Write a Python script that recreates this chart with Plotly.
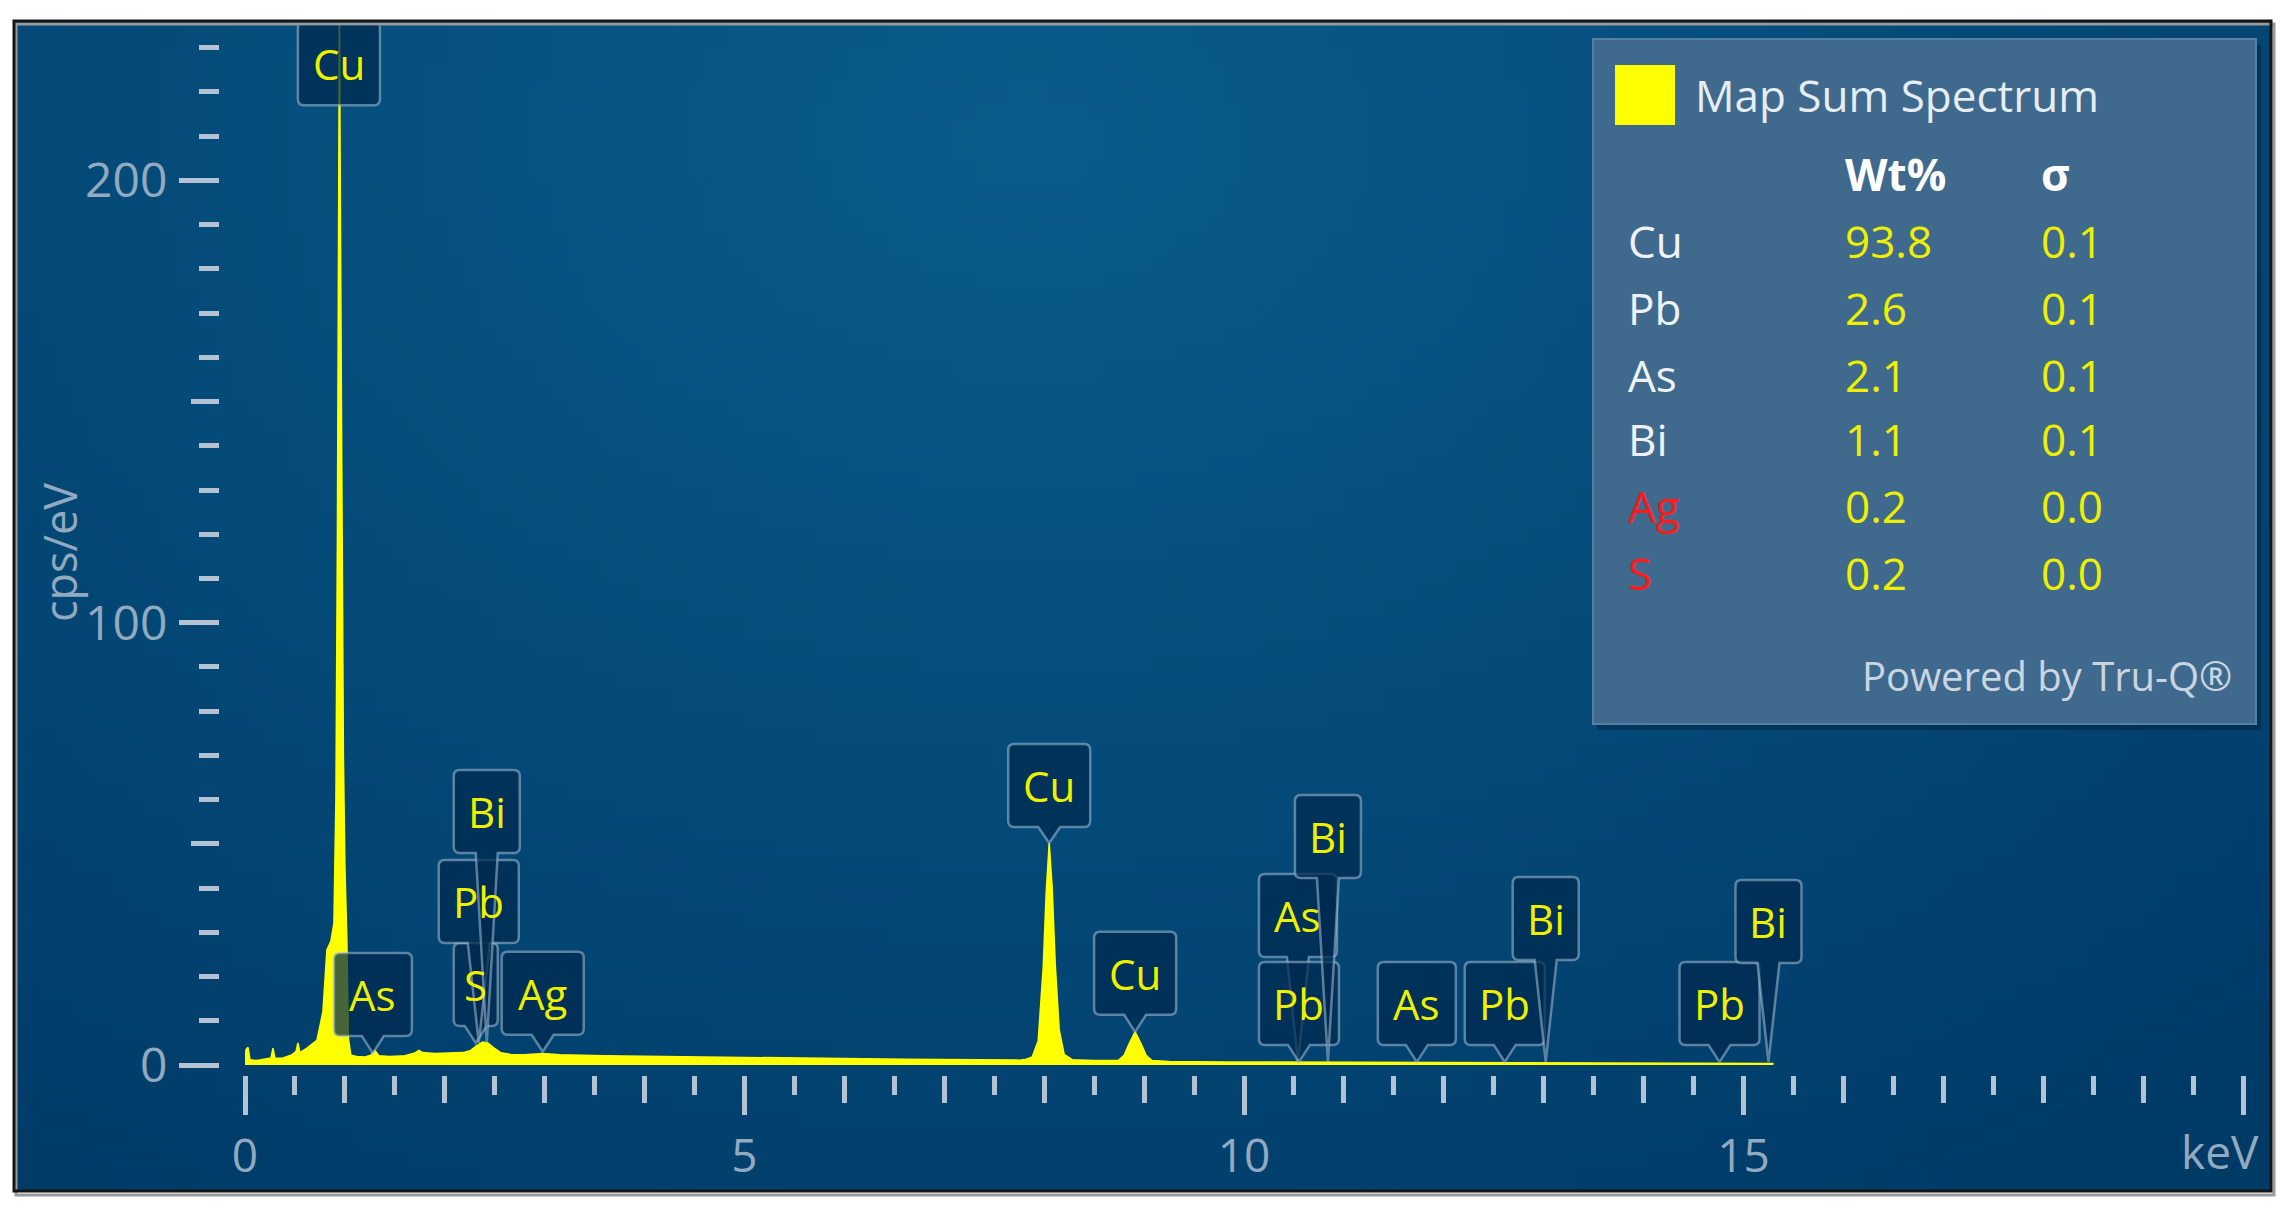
import base64
import math
import struct
import zlib

import plotly.graph_objects as go

W, H = 2285, 1211

# ---- spectrum (keV, cps/eV) ----
energy_kev = [
    0.00, 0.01, 0.03, 0.05, 0.12, 0.20, 0.26, 0.28, 0.30, 0.38, 0.46, 0.51, 0.53, 0.55,
    0.62, 0.72, 0.78, 0.82, 0.86, 0.89, 0.91, 0.925, 0.945, 0.965, 0.985, 1.00, 1.02,
    1.035, 1.06, 1.12, 1.20, 1.26, 1.30, 1.34, 1.45, 1.60, 1.70, 1.74, 1.78, 1.90, 2.05,
    2.18, 2.26, 2.32, 2.38, 2.43, 2.49, 2.56, 2.66, 2.80, 2.98, 3.15, 3.60, 4.20, 5.00,
    5.80, 6.60, 7.30, 7.75, 7.82, 7.88, 7.94, 7.99, 8.02, 8.05, 8.08, 8.11, 8.15, 8.20,
    8.28, 8.50, 8.74, 8.80, 8.85, 8.91, 8.97, 9.02, 9.08, 9.25, 9.80, 10.5, 11.3, 12.2,
    13.1, 14.2, 15.3,
]
counts = [
    0.0, 3.5, 4.0, 1.2, 1.0, 1.3, 1.6, 3.8, 1.5, 1.6, 2.2, 3.0, 5.0, 2.8,
    3.8, 5.6, 12.0, 26.0, 28.0, 32.0, 60.0, 120.0, 238.0, 150.0, 70.0, 45.0, 28.0,
    6.0, 2.2, 1.9, 1.8, 2.2, 3.3, 2.1, 1.9, 2.1, 2.7, 3.3, 2.8, 2.6, 2.7,
    2.8, 3.3, 4.4, 5.2, 5.0, 3.9, 2.8, 2.4, 2.3, 2.6, 2.3, 2.1, 1.9, 1.7,
    1.5, 1.3, 1.2, 1.1, 1.3, 1.8, 5.5, 22.0, 39.0, 50.2, 40.0, 23.0, 8.0, 2.4,
    1.2, 1.0, 1.0, 2.2, 4.8, 7.5, 4.8, 2.2, 1.0, 0.8, 0.7, 0.65, 0.6, 0.5,
    0.45, 0.4, 0.35,
]

# peak identification labels: element, line energy (keV), height of the label tip (cps/eV)
line_elements = ["Cu", "As", "S", "Pb", "Bi", "Ag", "Cu", "Cu", "As", "Pb", "Bi", "As", "Pb", "Bi", "Pb", "Bi"]
line_energy_kev = [0.94, 1.28, 2.31, 2.34, 2.42, 2.98, 8.05, 8.91, 10.54, 10.55, 10.84, 11.73, 12.61, 13.02, 14.76, 15.25]
line_tip_counts = [217, 2.7, 5.0, 5.0, 5.0, 3.0, 50.2, 7.5, 0.7, 0.7, 0.7, 0.7, 0.7, 0.7, 0.7, 0.7]

# quantification table
quant_elements = ["Cu", "Pb", "As", "Bi", "Ag", "S"]
quant_wt = ["93.8", "2.6", "2.1", "1.1", "0.2", "0.2"]
quant_sigma = ["0.1", "0.1", "0.1", "0.1", "0.0", "0.0"]
quant_flagged = ["Ag", "S"]

x_major_ticks = [0, 5, 10, 15, 20]
x_tick_text = ["0", "5", "10", "15", ""]
y_major_ticks = [0, 100, 200]

# ---- layout geometry / styles (pixels) ----
label_stem_px = [0, 17, 17, 100, 190, 17, 16, 17, 105, 17, 184, 17, 17, 102, 17, 99]
box_w = {"Cu": 82, "As": 78, "Ag": 82, "Pb": 80, "Bi": 66, "S": 44}
box_h = 83

FONT = "Open Sans"
TICK_C = "#b3c3d3"
TICKLABEL_C = "#92a9c0"
YELLOW = "#ffff00"
LABEL_YELLOW = "#eef000"

X0_PX, X20_PX = 245, 2243      # x axis 0 and 20 keV
AXIS_PX, TOP_PX = 1075, 25.6   # plot bottom / top
Y0_PX, PX_PER_COUNT = 1065, 4.423


def px_x(x):
    return x / W


def px_y(y):
    return 1 - y / H


def gradient_png(w=128, h=64):
    inner, outer = (9, 92, 140), (0, 58, 103)
    rows = []
    for j in range(h):
        row = bytearray([0])
        v = (j + 0.5) / h
        for i in range(w):
            u = (i + 0.5) / w
            d = math.sqrt(((u - 0.45) / 0.8) ** 2 + ((v - 0.1) / 1.1) ** 2)
            t = min(d, 1.0)
            row += bytes(int(round(a * (1 - t) + b * t)) for a, b in zip(inner, outer))
        rows.append(bytes(row))

    def chunk(tag, data):
        return struct.pack(">I", len(data)) + tag + data + struct.pack(">I", zlib.crc32(tag + data) & 0xFFFFFFFF)

    png = (b"\x89PNG\r\n\x1a\n" + chunk(b"IHDR", struct.pack(">IIBBBBB", w, h, 8, 2, 0, 0, 0))
           + chunk(b"IDAT", zlib.compress(b"".join(rows))) + chunk(b"IEND", b""))
    return "data:image/png;base64," + base64.b64encode(png).decode()


def callout_path(w, h, p, r=6, b=11):
    hw = w / 2
    if p <= 0:
        b = 0
    return (f"M0,0 L{b},{p} L{hw - r},{p} Q{hw},{p} {hw},{p + r} L{hw},{p + h - r} "
            f"Q{hw},{p + h} {hw - r},{p + h} L{-hw + r},{p + h} Q{-hw},{p + h} {-hw},{p + h - r} "
            f"L{-hw},{p + r} Q{-hw},{p} {-hw + r},{p} L{-b},{p} Z")


fig = go.Figure()

fig.add_trace(go.Scatter(
    x=energy_kev, y=counts, mode="lines", fill="tozeroy",
    line=dict(color=YELLOW, width=1.5), fillcolor=YELLOW,
    hoverinfo="skip", showlegend=False,
))
# empty trace so the overlay axes (medium / half ticks) get drawn
fig.add_trace(go.Scatter(x=[None], y=[None], xaxis="x2", yaxis="y2", showlegend=False, hoverinfo="skip"))

y_min = (Y0_PX - AXIS_PX) / PX_PER_COUNT
y_max = (Y0_PX - TOP_PX) / PX_PER_COUNT
x_dom = [px_x(X0_PX), px_x(X20_PX)]
y_dom = [px_y(AXIS_PX), px_y(TOP_PX)]

x_tick_font = dict(family=FONT, size=46, color=TICKLABEL_C)
y_tick_font = dict(family=FONT, size=48, color=TICKLABEL_C)

fig.update_layout(
    template="none",
    width=W, height=H,
    margin=dict(l=0, r=0, t=0, b=0),
    paper_bgcolor="white",
    plot_bgcolor="rgba(0,0,0,0)",
    font=dict(family=FONT),
    showlegend=False,
    xaxis=dict(
        domain=x_dom, range=[0, 20], anchor="y",
        tickmode="array", tickvals=x_major_ticks, ticktext=x_tick_text,
        ticks="outside", ticklen=39, tickwidth=5, tickcolor=TICK_C,
        tickfont=x_tick_font, ticklabelstandoff=2,
        minor=dict(tickmode="array", tickvals=[k for k in range(1, 20) if k % 5],
                   ticks="outside", ticklen=27, tickwidth=5, tickcolor=TICK_C, showgrid=False),
        showline=False, showgrid=False, zeroline=False, fixedrange=True,
    ),
    xaxis2=dict(
        overlaying="x", range=[0, 20], anchor="y2",
        tickmode="array", tickvals=[k + 0.5 for k in range(20)],
        ticks="outside", ticklen=19, tickwidth=5, tickcolor=TICK_C, showticklabels=False,
        showline=False, showgrid=False, zeroline=False, fixedrange=True,
    ),
    yaxis=dict(
        domain=y_dom, range=[y_min, y_max], anchor="free", position=px_x(219),
        tickmode="array", tickvals=y_major_ticks,
        ticks="outside", ticklen=40, tickwidth=5, tickcolor=TICK_C,
        tickfont=y_tick_font, ticklabelstandoff=2,
        minor=dict(tickmode="array", tickvals=[k for k in range(10, 240, 10) if k % 50],
                   ticks="outside", ticklen=20, tickwidth=5, tickcolor=TICK_C, showgrid=False),
        showline=False, showgrid=False, zeroline=False, fixedrange=True,
    ),
    yaxis2=dict(
        overlaying="y", range=[y_min, y_max], anchor="free", position=px_x(219),
        tickmode="array", tickvals=[50, 150],
        ticks="outside", ticklen=28, tickwidth=5, tickcolor=TICK_C, showticklabels=False,
        showline=False, showgrid=False, zeroline=False, fixedrange=True,
    ),
)

# panel background
fig.add_layout_image(dict(
    source=gradient_png(), xref="paper", yref="paper",
    x=px_x(14), y=px_y(21), sizex=px_x(2271 - 14), sizey=(1191 - 21) / H,
    sizing="stretch", layer="below", xanchor="left", yanchor="top",
))
fig.add_shape(type="rect", xref="paper", yref="paper", layer="below",
              x0=px_x(16), x1=px_x(2274), y0=px_y(1195), y1=px_y(24),
              line=dict(color="#9a9a9a", width=3))
fig.add_shape(type="rect", xref="paper", yref="paper", layer="below",
              x0=px_x(14), x1=px_x(2271), y0=px_y(1191), y1=px_y(21),
              line=dict(color="#151515", width=3))

# axis captions
fig.add_annotation(text="cps/eV", xref="paper", yref="paper", x=px_x(60), y=px_y(553),
                   xanchor="center", yanchor="middle", textangle=-90, showarrow=False,
                   font=dict(family=FONT, size=45, color=TICKLABEL_C))
fig.add_annotation(text="keV", xref="paper", yref="paper", x=px_x(2261), y=px_y(1151),
                   xanchor="right", yanchor="middle", showarrow=False, font=x_tick_font)

# peak labels
for el, e, tip, stem in zip(line_elements, line_energy_kev, line_tip_counts, label_stem_px):
    w = box_w[el]
    fig.add_shape(
        type="path", xref="x", yref="y", xsizemode="pixel", ysizemode="pixel",
        xanchor=e, yanchor=tip, path=callout_path(w, box_h, stem),
        fillcolor="rgba(0,42,78,0.72)", line=dict(color="rgba(165,192,215,0.55)", width=2.5),
        layer="above",
    )
    fig.add_annotation(
        text=el, x=e, y=tip, xref="x", yref="y", yshift=stem + box_h / 2,
        showarrow=False, xanchor="center", yanchor="middle",
        font=dict(family=FONT, size=42, color=LABEL_YELLOW),
    )

# quantification panel
fig.add_shape(type="rect", xref="paper", yref="paper", layer="above",
              x0=px_x(1597), x1=px_x(2261), y0=px_y(730), y1=px_y(45),
              fillcolor="rgba(0,20,40,0.35)", line=dict(width=0))
fig.add_shape(type="rect", xref="paper", yref="paper", layer="above",
              x0=px_x(1593), x1=px_x(2256), y0=px_y(724), y1=px_y(39),
              fillcolor="#3f6a8e", line=dict(color="#5680a3", width=2))
fig.add_shape(type="rect", xref="paper", yref="paper", layer="above",
              x0=px_x(1615), x1=px_x(1675), y0=px_y(125), y1=px_y(65),
              fillcolor=YELLOW, line=dict(width=0))


def panel_text(text, x, y, color, size=44, anchor="left", bold=False):
    fig.add_annotation(
        text=f"<b>{text}</b>" if bold else text, xref="paper", yref="paper",
        x=px_x(x), y=px_y(y), xanchor=anchor, yanchor="middle", showarrow=False,
        font=dict(family=FONT, size=size, color=color),
    )


panel_text("Map Sum Spectrum", 1693, 95, "#e6edf3")
panel_text("Wt%", 1843, 174, "#ffffff", bold=True)
panel_text("σ", 2039, 174, "#ffffff", bold=True)
row_y = [241, 308, 375, 439, 506, 573]
for el, wt, sg, y in zip(quant_elements, quant_wt, quant_sigma, row_y):
    panel_text(el, 1626, y, "#ff1a1a" if el in quant_flagged else "#eef2f6")
    panel_text(wt, 1843, y, LABEL_YELLOW)
    panel_text(sg, 2039, y, LABEL_YELLOW)
panel_text("Powered by Tru-Q®", 2234, 675, "#c9d5e0", size=40, anchor="right")

# the page body has a default 8px margin; drop it so the figure fills the window exactly
fig.write_html("out.html", config={"displayModeBar": False},
               post_script="document.body.style.margin = '0';")
